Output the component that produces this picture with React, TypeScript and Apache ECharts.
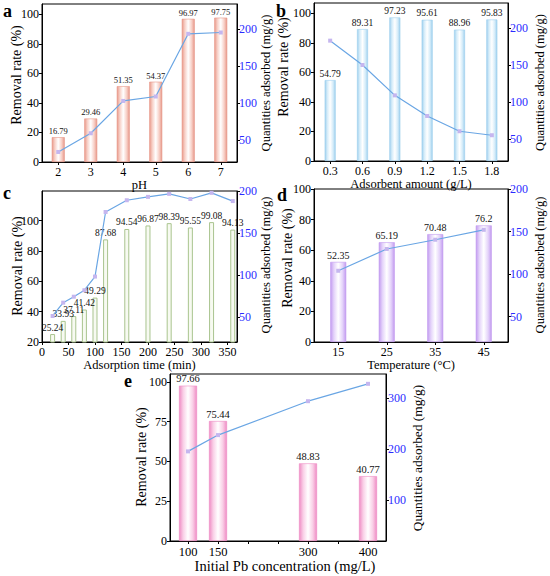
import React, { useEffect, useRef } from "react";
import * as echarts from "echarts";

const phCats = ["2", "3", "4", "5", "6", "7"];
const phRemoval = [16.79, 29.46, 51.35, 54.37, 96.97, 97.75];
const phQe = [33.6, 58.9, 102.7, 108.7, 193.6, 195.4];

const doseCats = ["0.3", "0.6", "0.9", "1.2", "1.5", "1.8"];
const doseRemoval = [54.79, 89.31, 97.23, 95.61, 88.96, 95.83];
const doseQe = [183, 150, 108.9, 81, 60.3, 54.9];

const timeVals = [20, 40, 60, 80, 100, 120, 160, 200, 240, 280, 320, 360];
const timeRemoval = [25.24, 33.93, 37.11, 41.42, 49.29, 87.68, 94.54, 96.87, 98.39, 95.55, 99.08, 94.13];
const timeQe = [51, 66.9, 74, 81.7, 98, 175, 189, 193, 196.6, 190.5, 197.8, 188];
const timeTicks = [0, 50, 100, 150, 200, 250, 300, 350];

const tempCats = ["15", "25", "35", "45"];
const tempRemoval = [52.35, 65.19, 70.48, 76.2];
const tempQe = [103.8, 129.4, 140.3, 152];

const concVals = [100, 150, 300, 400];
const concRemoval = [97.66, 75.44, 48.83, 40.77];
const concQe = [196, 228, 294.6, 328.7];
const concTicks = [100, 150, 200, 250, 300, 350, 400];
const concLabels = [100, 150, 300, 400];

const leftTicksA = [0, 20, 40, 60, 80, 100];
const leftTicksC = [20, 40, 60, 80, 100];
const leftTicksE = [0, 25, 50, 75, 100];
const rightTicks = [50, 100, 150, 200];
const rightTicksE = [100, 200, 300];

const leftName = "Removal rate (%)";
const rightName = "Quantities adsorbed (mg/g)";

const FONT = "'Liberation Serif', 'Times New Roman', 'DejaVu Serif', serif";

export default function App() {
  const ref = useRef<HTMLDivElement>(null);
  useEffect(() => {
    document.body.style.margin = "0";
    const chart = echarts.init(ref.current!, null, { renderer: "svg" });

    const grad = (edge: string, mid: string) =>
      new echarts.graphic.LinearGradient(0, 0, 1, 0, [
        { offset: 0, color: edge },
        { offset: 0.22, color: mid },
        { offset: 0.5, color: "#ffffff" },
        { offset: 0.78, color: mid },
        { offset: 1, color: edge },
      ]);

    const grids = [
      { left: 42, top: 4, width: 195, height: 158 },
      { left: 314, top: 3, width: 194, height: 158 },
      { left: 42, top: 191, width: 195, height: 151 },
      { left: 314, top: 189, width: 194, height: 153 },
      { left: 170, top: 374, width: 216, height: 167 },
    ].map((g) => ({ ...g, show: true, borderColor: "#000", borderWidth: 1, backgroundColor: "transparent" }));

    const axisBase = (fs = 12) => ({
      axisLine: { show: true, lineStyle: { color: "#000", width: 1 } },
      axisTick: { show: true, length: 3, lineStyle: { color: "#000" } },
      splitLine: { show: false },
      axisLabel: { color: "#000", fontFamily: FONT, fontSize: fs, margin: 4 },
      nameTextStyle: { color: "#000", fontFamily: FONT, fontSize: 12.5 },
      nameLocation: "middle" as const,
    });

    const catX = (gi: number, data: string[], name: string) => {
      const b = axisBase();
      return {
        ...b,
        type: "category",
        gridIndex: gi,
        data,
        name,
        nameGap: 15,
        axisTick: { ...b.axisTick, alignWithLabel: true },
      };
    };

    const leftY = (gi: number, min: number, max: number, ticks: number[]) => {
      const b = axisBase();
      return {
        ...b,
        type: "value",
        gridIndex: gi,
        position: "left",
        min,
        max,
        axisLabel: { ...b.axisLabel, margin: 3, customValues: ticks },
        axisTick: { ...b.axisTick, customValues: ticks },
      };
    };

    const rightY = (gi: number, min: number, max: number, ticks: number[]) => {
      const b = axisBase();
      return {
        ...b,
        type: "value",
        gridIndex: gi,
        position: "right",
        min,
        max,
        axisLabel: { ...b.axisLabel, color: "#2b2bff", margin: 2, customValues: ticks },
        axisTick: { ...b.axisTick, customValues: ticks },
      };
    };

    const xAxis: any[] = [
      catX(0, phCats, "pH"),
      catX(1, doseCats, "Adsorbent amount (g/L)"),
      {
        ...axisBase(),
        type: "value",
        gridIndex: 2,
        min: 0,
        max: 368,
        name: "Adsorption time (min)",
        nameGap: 14,
        axisLabel: { ...axisBase().axisLabel, customValues: timeTicks },
        axisTick: { ...axisBase().axisTick, customValues: timeTicks },
      },
      catX(3, tempCats, "Temperature (°C)"),
      {
        ...axisBase(12.5),
        type: "value",
        gridIndex: 4,
        min: 70,
        max: 430,
        name: "Initial Pb concentration (mg/L)",
        nameGap: 13,
        nameTextStyle: { color: "#000", fontFamily: FONT, fontSize: 14.5, padding: [0, 0, 0, 14] },
        axisLabel: { ...axisBase(12.5).axisLabel, customValues: concLabels },
        axisTick: { ...axisBase().axisTick, customValues: concTicks },
      },
    ];

    const yAxis: any[] = [
      leftY(0, 0, 107, leftTicksA),
      rightY(0, 20, 234, rightTicks),
      leftY(1, 0, 107, leftTicksA),
      rightY(1, 20, 234, rightTicks),
      leftY(2, 20, 119.6, leftTicksC),
      rightY(2, 20, 200, rightTicks),
      leftY(3, 0, 100, leftTicksA),
      rightY(3, 20, 200, rightTicks),
      leftY(4, 0, 105, leftTicksE),
      rightY(4, 20, 348, rightTicksE),
    ];

    const lineStyle = { color: "#6aa6e4", width: 1.2 };
    const markerStyle = { color: "#c5b6ef" };
    const lbl = (fs: number) => ({ show: true, position: "top", distance: 1.5, color: "#111", fontFamily: FONT, fontSize: fs });

    const barSeries = (gi: number, data: any[], width: number, edge: string, mid: string, fs: number) => ({
      type: "bar",
      xAxisIndex: gi,
      yAxisIndex: gi * 2,
      data,
      barWidth: width,
      itemStyle: { color: grad(edge, mid), borderColor: edge, borderWidth: 0.6 },
      label: lbl(fs),
      z: 2,
    });
    const lineSeries = (gi: number, data: any[]) => ({
      type: "line",
      xAxisIndex: gi,
      yAxisIndex: gi * 2 + 1,
      data,
      symbol: "rect",
      symbolSize: 4,
      showSymbol: true,
      lineStyle,
      itemStyle: markerStyle,
      z: 5,
    });

    const series: any[] = [
      barSeries(0, phRemoval, 13, "#e8998a", "#f7cfc6", 8.5),
      lineSeries(0, phQe),
      barSeries(1, doseRemoval, 11, "#9fd0ee", "#d5ecf9", 9.5),
      lineSeries(1, doseQe),
      {
        type: "bar",
        xAxisIndex: 2,
        yAxisIndex: 4,
        data: timeVals.map((t, i) => [t, timeRemoval[i]]),
        barWidth: 5,
        itemStyle: { color: "#f7faf1", borderColor: "#a9c48e", borderWidth: 1 },
        label: lbl(9.5),
        z: 2,
      },
      lineSeries(2, timeVals.map((t, i) => [t, timeQe[i]])),
      barSeries(3, tempRemoval, 16, "#c39cf0", "#e4d3fa", 10),
      lineSeries(3, tempQe),
      barSeries(4, concVals.map((c, i) => [c, concRemoval[i]]), 18, "#ef8cc4", "#f9cee6", 10.5),
      lineSeries(4, concVals.map((c, i) => [c, concQe[i]])),
    ];

    const panelLabel = (t: string, x: number, y: number) => ({
      type: "text",
      x,
      y,
      style: { text: t, fontFamily: FONT, fontSize: 18, fontWeight: "bold", fill: "#000", textVerticalAlign: "top" },
    });
    const vName = (t: string, x: number, y: number, fs: number) => ({
      type: "text",
      x,
      y,
      rotation: Math.PI / 2,
      style: { text: t, fontFamily: FONT, fontSize: fs, fill: "#000", textAlign: "center", textVerticalAlign: "middle" },
    });

    chart.setOption({
      animation: false,
      backgroundColor: "#fff",
      textStyle: { fontFamily: FONT },
      grid: grids,
      xAxis,
      yAxis,
      series,
      graphic: [
        panelLabel("a", 3, 2),
        panelLabel("b", 276, 2),
        panelLabel("c", 3, 184),
        panelLabel("d", 277, 186),
        panelLabel("e", 124, 372),
        vName(leftName, 16.5, 75, 14),
        vName(rightName, 265.5, 83, 12.5),
        vName(leftName, 283, 67, 14),
        vName(rightName, 539.5, 82.5, 12.5),
        vName(leftName, 17.2, 266, 14),
        vName(rightName, 266, 265, 12.5),
        vName(leftName, 287, 258, 14),
        vName(rightName, 539.5, 265, 12.5),
        vName(leftName, 141.3, 457, 14),
        vName(rightName, 417, 458, 13.4),
      ],
    });
    return () => chart.dispose();
  }, []);
  return <div ref={ref} style={{ width: 550, height: 576 }} />;
}
